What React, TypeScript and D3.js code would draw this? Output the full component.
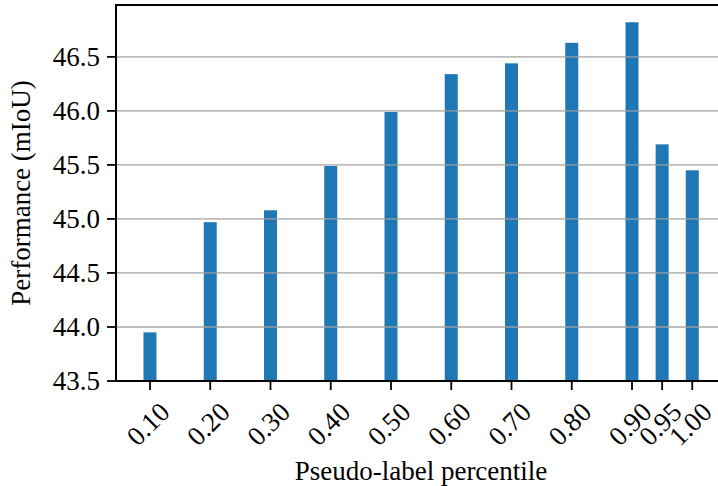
import React from "react";
import * as d3 from "d3";

const percentiles = [0.1, 0.2, 0.3, 0.4, 0.5, 0.6, 0.7, 0.8, 0.9, 0.95, 1.0];
const tickLabels = ["0.10", "0.20", "0.30", "0.40", "0.50", "0.60", "0.70", "0.80", "0.90", "0.95", "1.00"];
const miou = [43.95, 44.97, 45.08, 45.49, 45.99, 46.34, 46.44, 46.63, 46.82, 45.69, 45.45];
const yTicks = [43.5, 44.0, 44.5, 45.0, 45.5, 46.0, 46.5];

const W = 718;
const H = 486;
const left = 116;
const right = 726;
const top = 5;
const bottom = 381;
const FS = 27;
const textStyle: React.CSSProperties = {
  fontFamily: '"Liberation Serif", Tinos, "Times New Roman", Times, serif',
  fontSize: FS,
};

export default function App() {
  const x = d3.scaleLinear().domain([0.0436, 1.056]).range([left, right]);
  const y = d3.scaleLinear().domain([43.5, 46.98]).range([bottom, top]);
  const barW = 13;

  return (
    <svg
      width={W}
      height={H}
      style={{ position: "absolute", left: 0, top: 0, background: "#fff" }}
    >
      <rect x={0} y={0} width={W} height={H} fill="#fff" />
      {percentiles.map((p, i) => (
        <rect
          key={"b" + i}
          x={x(p) - barW / 2}
          y={y(miou[i])}
          width={barW}
          height={y(43.5) - y(miou[i])}
          fill="#1f77b4"
        />
      ))}
      {yTicks.filter((t) => t > 43.5).map((t) => (
        <line
          key={"g" + t}
          x1={left}
          x2={W}
          y1={y(t)}
          y2={y(t)}
          stroke="#a0a0a0"
          strokeOpacity={0.7}
          strokeWidth={1.8}
        />
      ))}
      <line x1={left} x2={left} y1={top} y2={bottom} stroke="#000" strokeWidth={2} strokeLinecap="square" />
      <line x1={left} x2={W} y1={bottom} y2={bottom} stroke="#000" strokeWidth={2} />
      <line x1={left} x2={W} y1={top} y2={top} stroke="#000" strokeWidth={2} strokeLinecap="square" />
      {yTicks.map((t) => (
        <g key={"yt" + t}>
          <line x1={left - 9} x2={left} y1={y(t)} y2={y(t)} stroke="#000" strokeWidth={1.8} />
          <text x={100} y={y(t)} dy="0.34em" textAnchor="end" style={textStyle} fill="#000">
            {t.toFixed(1)}
          </text>
        </g>
      ))}
      {percentiles.map((p, i) => (
        <g key={"xt" + i}>
          <line x1={x(p)} x2={x(p)} y1={bottom} y2={bottom + 9} stroke="#000" strokeWidth={1.8} />
          <text
            transform={`translate(${x(p) - 2},424) rotate(-45)`}
            dy="0.34em"
            textAnchor="middle"
            style={textStyle}
            fill="#000"
          >
            {tickLabels[i]}
          </text>
        </g>
      ))}
      <text x={(left + right) / 2} y={480} textAnchor="middle" style={textStyle} fill="#000">
        Pseudo-label percentile
      </text>
      <text
        transform={`translate(30,${(top + bottom) / 2}) rotate(-90)`}
        textAnchor="middle"
        style={textStyle}
        fill="#000"
      >
        Performance (mIoU)
      </text>
    </svg>
  );
}
